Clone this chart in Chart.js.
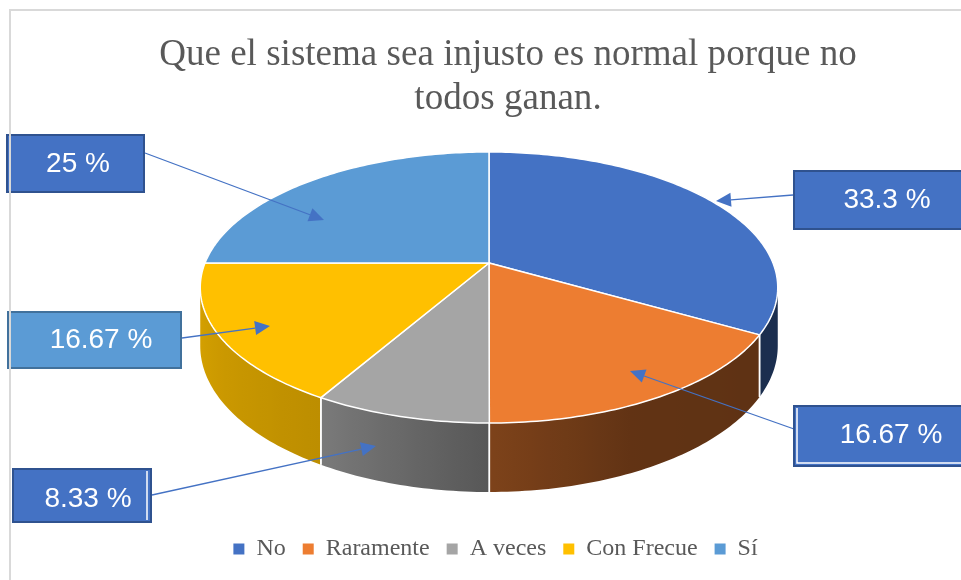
<!DOCTYPE html>
<html>
<head>
<meta charset="utf-8">
<script src="https://cdn.jsdelivr.net/npm/chart.js@4.4.1/dist/chart.umd.min.js"></script>
<style>
  html, body { margin: 0; padding: 0; background: #fff; }
  #wrap { width: 961px; height: 580px; }
</style>
</head>
<body>
<div id="wrap"><canvas id="pieChart" width="961" height="580"></canvas></div>
<script>
// data
const titleLines = ['Que el sistema sea injusto es normal porque no', 'todos ganan.'];
const categories = ['No', 'Raramente', 'A veces', 'Con Frecue', 'Sí'];
const percentages = [33.3, 16.67, 8.33, 16.67, 25];
const sliceColors = ['#4472C4', '#ED7D31', '#A5A5A5', '#FFC000', '#5B9BD5'];

// 3D look: perspective ellipse + wall depth (pixels)
const geo = { cx: 489, cy: 263, rx: 284, ry: 131.1, persp: 0.1808, depth: 56.5 };
// side wall lighting, by angle clockwise from 12 o'clock
const wallShade = [[0, 0.42], [120, 0.40], [155, 0.41], [180, 0.53], [210, 0.74], [260, 0.84], [300, 0.80], [360, 0.42]];

// callout boxes, one per slice (same order as categories)
const callouts = [
  { box: [793, 170, 190, 60], fill: '#4472C4', edge: '#2F528F', text: [887, 200], from: [793, 195], tip: [716, 201] },
  { box: [793, 405, 190, 62], fill: '#4472C4', edge: '#2F528F', text: [891, 435], from: [794, 429], tip: [630, 371], inset: 'lb' },
  { box: [12, 468, 140, 55], fill: '#4472C4', edge: '#2F528F', text: [88, 499], from: [152, 495], tip: [376, 446], inset: 'r' },
  { box: [7, 311, 175, 58], fill: '#5B9BD5', edge: '#41719C', text: [101, 340], from: [182, 338], tip: [270, 326] },
  { box: [6, 134, 139, 59], fill: '#4472C4', edge: '#2F528F', text: [78, 164], from: [145, 153], tip: [324, 220] }
];

function project(theta, r, z) {
  const u = r * Math.sin(theta);
  const v = -r * Math.cos(theta);
  const w = 1 - geo.persp * v;
  return { x: geo.cx + geo.rx * u / w, y: geo.cy + (geo.ry * v + z * geo.depth) / w };
}

function shadeAt(deg) {
  deg = ((deg % 360) + 360) % 360;
  for (let i = 1; i < wallShade.length; i++) {
    const [d1, f1] = wallShade[i];
    const [d0, f0] = wallShade[i - 1];
    if (deg <= d1) return f0 + (f1 - f0) * (deg - d0) / (d1 - d0);
  }
  return wallShade[0][1];
}

function darken(hex, f) {
  const n = parseInt(hex.slice(1), 16);
  const r = Math.round(((n >> 16) & 255) * f);
  const g = Math.round(((n >> 8) & 255) * f);
  const b = Math.round((n & 255) * f);
  return `rgb(${r},${g},${b})`;
}

function pathOf(ctx, pts) {
  ctx.beginPath();
  pts.forEach((p, i) => i ? ctx.lineTo(p.x, p.y) : ctx.moveTo(p.x, p.y));
  ctx.closePath();
}

const pie3d = {
  id: 'pie3d',
  beforeDatasetsDraw(chart) {
    const ctx = chart.ctx;
    const meta = chart.getDatasetMeta(0);
    const colors = chart.data.datasets[0].backgroundColor;
    const slices = meta.data.map((arc, i) => ({
      t0: arc.startAngle + Math.PI / 2,
      t1: arc.endAngle + Math.PI / 2,
      color: colors[i]
    }));
    const step = Math.PI / 180;
    // the wall faces the viewer between the two silhouette tangents
    const visA = Math.acos(-geo.persp), visB = 2 * Math.PI - visA;

    ctx.save();
    slices.forEach(s => {
      const a = Math.max(s.t0, visA), b = Math.min(s.t1, visB);
      if (b <= a) return;
      const n = Math.max(2, Math.ceil((b - a) / step));
      const top = [], bottom = [];
      for (let j = 0; j <= n; j++) {
        const t = a + (b - a) * j / n;
        top.push(project(t, 1, 0));
        bottom.push(project(t, 1, 1));
      }
      const xs = top.map(p => p.x);
      const xmin = Math.min(...xs), xmax = Math.max(...xs);
      const grad = ctx.createLinearGradient(xmin, 0, xmax, 0);
      for (let j = 0; j <= n; j += 3) {
        const t = a + (b - a) * j / n;
        const pos = xmax > xmin ? (top[j].x - xmin) / (xmax - xmin) : 0;
        grad.addColorStop(Math.min(1, Math.max(0, pos)), darken(s.color, shadeAt(t * 180 / Math.PI)));
      }
      grad.addColorStop((top[n].x - xmin) / (xmax - xmin || 1), darken(s.color, shadeAt(b * 180 / Math.PI)));
      pathOf(ctx, top.concat(bottom.reverse()));
      ctx.fillStyle = grad;
      ctx.fill();
    });

    // white seams where slices meet on the visible wall
    ctx.strokeStyle = '#ffffff';
    ctx.lineWidth = 1.5;
    slices.forEach(s => {
      [s.t0, s.t1].forEach(t => {
        if (t > visA && t < visB) {
          const p = project(t, 1, 0), q = project(t, 1, 1);
          ctx.beginPath();
          ctx.moveTo(p.x, p.y);
          ctx.lineTo(q.x, q.y);
          ctx.stroke();
        }
      });
    });

    // top faces
    ctx.lineJoin = 'round';
    slices.forEach(s => {
      const n = Math.max(2, Math.ceil((s.t1 - s.t0) / step));
      const pts = [project(0, 0, 0)];
      for (let j = 0; j <= n; j++) pts.push(project(s.t0 + (s.t1 - s.t0) * j / n, 1, 0));
      pathOf(ctx, pts);
      ctx.fillStyle = s.color;
      ctx.fill();
      ctx.strokeStyle = '#ffffff';
      ctx.lineWidth = 1.5;
      ctx.stroke();
    });
    ctx.restore();
    return false;
  },

  afterDraw(chart) {
    const ctx = chart.ctx;
    ctx.save();

    // title
    ctx.fillStyle = '#595959';
    ctx.font = "38px 'Liberation Serif', 'Times New Roman', serif";
    ctx.textAlign = 'center';
    ctx.textBaseline = 'alphabetic';
    titleLines.forEach((line, i) => {
      ctx.save();
      ctx.translate(508, 65 + i * 44);
      ctx.scale(0.975, 1);
      ctx.fillText(line, 0, 0);
      ctx.restore();
    });

    // leader lines with arrow heads
    ctx.strokeStyle = '#4472C4';
    ctx.fillStyle = '#4472C4';
    ctx.lineWidth = 1.3;
    callouts.forEach(c => {
      const [x0, y0] = c.from, [x1, y1] = c.tip;
      const ang = Math.atan2(y1 - y0, x1 - x0);
      const len = 15, half = 7;
      const bx = x1 - len * Math.cos(ang), by = y1 - len * Math.sin(ang);
      ctx.beginPath();
      ctx.moveTo(x0, y0);
      ctx.lineTo(bx, by);
      ctx.stroke();
      ctx.beginPath();
      ctx.moveTo(x1, y1);
      ctx.lineTo(bx + half * Math.sin(ang), by - half * Math.cos(ang));
      ctx.lineTo(bx - half * Math.sin(ang), by + half * Math.cos(ang));
      ctx.closePath();
      ctx.fill();
    });

    // label boxes
    ctx.font = "28px 'Liberation Sans', Arial, sans-serif";
    ctx.textAlign = 'center';
    ctx.textBaseline = 'middle';
    callouts.forEach((c, i) => {
      const [x, y, w, h] = c.box;
      ctx.fillStyle = c.fill;
      ctx.fillRect(x, y, w, h);
      ctx.strokeStyle = c.edge;
      ctx.lineWidth = 2;
      ctx.strokeRect(x + 1, y + 1, w - 2, h - 2);
      ctx.strokeStyle = '#ffffff';
      ctx.lineWidth = 1.5;
      if (c.inset === 'r') {
        ctx.beginPath(); ctx.moveTo(x + w - 5, y + 3); ctx.lineTo(x + w - 5, y + h - 3); ctx.stroke();
      } else if (c.inset === 'lb') {
        ctx.beginPath(); ctx.moveTo(x + 4, y + 3); ctx.lineTo(x + 4, y + h - 4); ctx.lineTo(x + w, y + h - 4); ctx.stroke();
      }
      ctx.fillStyle = '#ffffff';
      ctx.fillText(`${percentages[i]} %`, c.text[0], c.text[1]);
    });

    // chart frame
    ctx.strokeStyle = '#d9d9d9';
    ctx.lineWidth = 2;
    ctx.beginPath();
    ctx.moveTo(10, 580);
    ctx.lineTo(10, 10);
    ctx.lineTo(961, 10);
    ctx.stroke();
    ctx.restore();
  }
};

new Chart(document.getElementById('pieChart'), {
  type: 'pie',
  data: {
    labels: categories,
    datasets: [{
      data: percentages,
      backgroundColor: sliceColors,
      borderWidth: 0
    }]
  },
  options: {
    responsive: false,
    animation: false,
    events: [],
    layout: { padding: { left: 30, bottom: 9 } },
    plugins: {
      title: { display: false },
      tooltip: { enabled: false },
      legend: {
        position: 'bottom',
        labels: {
          boxWidth: 11,
          boxHeight: 11,
          padding: 17,
          color: '#595959',
          font: { family: "'Liberation Serif', 'Times New Roman', serif", size: 24 }
        }
      }
    }
  },
  plugins: [pie3d]
});
</script>
</body>
</html>
